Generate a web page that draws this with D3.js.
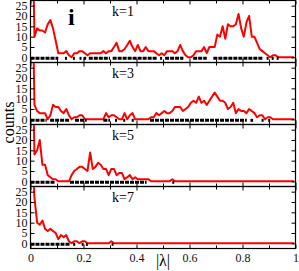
<!DOCTYPE html>
<html>
<head>
<meta charset="utf-8">
<script src="https://cdn.jsdelivr.net/npm/d3@7"></script>
<style>
  body { margin: 0; background: #fff; }
  svg text { font-family: "Liberation Serif", "DejaVu Serif", serif; }
</style>
</head>
<body>
<div id="chart"></div>
<script>
// histogram of |lambda|, one count per bin of width 0.01 (bin centres at 0.005, 0.015, ...)
const binWidth = 0.01

const countsK1 = [
  80, 10, 14, 13, 13, 12, 16, 18, 14, 8,
  2, 2, 2, 3, 1, 0, 2, 2, 3, 3,
  2, 1, 2, 2, 2, 2, 2, 3, 2, 3,
  3, 5, 7, 3, 3, 4, 6, 8, 5, 3,
  6, 3, 3, 5, 3, 3, 3, 2, 1, 2,
  1, 3, 3, 3, 2, 3, 6, 3, 1, 0,
  0, 1, 3, 3, 3, 5, 2, 5, 5, 5,
  11, 10, 15, 9, 16, 15, 15, 16, 21, 14,
  10, 17, 20, 10, 10, 7, 4, 3, 2, 1,
  0, 1, 1, 0, 0, 0, 0, 0, 0, 0,
]
const countsK3 = [
  80, 7, 4, 3, 3, 3, 0, 2, 7, 6,
  6, 4, 3, 5, 2, 0, 1, 1, 2, 2,
  0, 0, 0, 0, 0, 0, 0, 0, 3, 1,
  2, 2, 1, 0, 0, 3, 0, 2, 3, 0,
  0, 0, 0, 0, 0, 1, 1, 3, 2, 3,
  4, 3, 3, 4, 6, 6, 6, 4, 5, 6,
  8, 9, 8, 11, 8, 9, 7, 9, 11, 13,
  11, 9, 9, 8, 5, 6, 8, 3, 5, 4,
  4, 3, 5, 4, 3, 1, 2, 2, 0, 1,
  1, 0, 0, 0, 0, 0, 0, 0, 0, 0,
]
const countsK5 = [
  80, 13, 15, 20, 8, 8, 3, 2, 1, 1,
  0, 0, 0, 0, 0, 3, 5, 6, 7, 7,
  6, 5, 14, 6, 7, 9, 8, 6, 6, 3,
  6, 6, 3, 4, 4, 1, 2, 3, 1, 2,
  1, 1, 1, 1, 1, 0, 0, 0, 0, 0,
  0, 0, 0, 1, 0, 0, 0, 0, 0, 0,
  0, 0, 0, 0, 0, 0, 0, 0, 0, 0,
  0, 0, 0, 0, 0, 0, 0, 0, 0, 0,
  0, 0, 0, 0, 0, 0, 0, 0, 0, 0,
  0, 0, 0, 0, 0, 0, 0, 0, 0, 0,
]
const countsK7 = [
  50, 22, 10, 9, 11, 7, 6, 7, 6, 5,
  2, 4, 3, 4, 1, 0, 1, 1, 0, 1,
  1, 0, 0, 0, 0, 0, 0, 0, 0, 0,
  1, 0, 0, 0, 0, 0, 0, 0, 0, 0,
  0, 0, 0, 0, 0, 0, 0, 0, 0, 0,
  0, 0, 0, 0, 0, 0, 0, 0, 0, 0,
  0, 0, 0, 0, 0, 0, 0, 0, 0, 0,
  0, 0, 0, 0, 0, 0, 0, 0, 0, 0,
  0, 0, 0, 0, 0, 0, 0, 0, 0, 0,
  0, 0, 0, 0, 0, 0, 0, 0, 0, 0,
]

// where the individual eigenvalues sit (runs of |lambda| marked on the zero line)
const rugK1 = [[0, 0.105], [0.13, 0.135], [0.16, 0.165], [0.185, 0.19], [0.2, 0.21], [0.22, 0.3],
  [0.31, 0.476], [0.489, 0.492], [0.508, 0.577], [0.614, 0.665], [0.69, 0.879], [0.891, 0.894],
  [0.91, 0.913], [0.929, 0.932]]
const rugK3 = [[0, 0.061], [0.074, 0.149], [0.168, 0.212], [0.275, 0.3], [0.319, 0.322],
  [0.35, 0.353], [0.382, 0.385], [0.451, 0.816], [0.83, 0.84], [0.872, 0.875], [0.897, 0.9]]
const rugK5 = [[0, 0.092], [0.149, 0.438], [0.535, 0.538]]
const rugK7 = [[0, 0.149], [0.161, 0.164], [0.193, 0.196], [0.209, 0.212], [0.306, 0.309]]

const panelLabels = ['k=1', 'k=3', 'k=5', 'k=7']
const xTicks = [0, 0.2, 0.4, 0.6, 0.8, 1]
const xMinorTicks = [0.1, 0.3, 0.5, 0.7, 0.9]
const yTicks = [0, 5, 10, 15, 20, 25]

const panels = [
  {label: panelLabels[0], counts: countsK1, rug: rugK1},
  {label: panelLabels[1], counts: countsK3, rug: rugK3},
  {label: panelLabels[2], counts: countsK5, rug: rugK5},
  {label: panelLabels[3], counts: countsK7, rug: rugK7},
]

const chart = {left: 30.5, right: 295.5, top: 0.5, panelHeight: 62}

const svg = d3.select('#chart').append('svg')
  .attr('width', 299)
  .attr('height', 271)

const x = d3.scaleLinear().domain([0, 1]).range([chart.left, chart.right])

const styleAxis = (g) => {
  g.select('.domain').remove()
  g.selectAll('text')
    .attr('font-family', '"Liberation Serif", "DejaVu Serif", serif')
    .attr('font-size', 12)
    .attr('fill', '#111')
  g.selectAll('line').attr('stroke', '#000')
}

panels.forEach((p, i) => {
  const top = chart.top + i * chart.panelHeight
  const bottom = top + chart.panelHeight
  const y = d3.scaleLinear().domain([-2.5, 27.5]).range([bottom, top])
  const g = svg.append('g')

  g.append('clipPath').attr('id', 'clip' + i)
    .append('rect')
    .attr('x', chart.left).attr('y', top)
    .attr('width', chart.right - chart.left).attr('height', chart.panelHeight)

  const pts = p.counts.map((c, j) => ({x: (j + 0.5) * binWidth, v: c}))
  const line = d3.line().x((d) => x(d.x)).y((d) => y(d.v))

  g.append('path')
    .datum(pts)
    .attr('d', line)
    .attr('fill', 'none')
    .attr('stroke', '#ff0000')
    .attr('stroke-width', 2)
    .attr('stroke-linejoin', 'round')
    .attr('clip-path', 'url(#clip' + i + ')')

  // eigenvalue marks along zero
  g.selectAll('line.rug')
    .data(p.rug)
    .enter()
      .append('line')
      .attr('class', 'rug')
      .attr('x1', (d) => x(d[0]))
      .attr('x2', (d) => Math.max(x(d[1]), x(d[0]) + 2))
      .attr('y1', y(0) + 1)
      .attr('y2', y(0) + 1)
      .attr('stroke', '#000')
      .attr('stroke-width', 3)
      .attr('stroke-dasharray', '4,1')

  // axes, ticks pointing inward
  g.append('g')
    .attr('transform', `translate(${chart.left},0)`)
    .call(d3.axisLeft(y).tickValues(yTicks).tickSizeInner(-4).tickSizeOuter(0).tickPadding(3))
    .call(styleAxis)
  g.append('g')
    .attr('transform', `translate(${chart.right},0)`)
    .call(d3.axisRight(y).tickValues(yTicks).tickSizeInner(-4).tickSizeOuter(0).tickFormat(''))
    .call(styleAxis)
  g.append('g')
    .attr('transform', `translate(0,${top})`)
    .call(d3.axisTop(x).tickValues(xTicks).tickSizeInner(-4).tickSizeOuter(0).tickFormat(''))
    .call(styleAxis)
  g.append('g')
    .attr('transform', `translate(0,${top})`)
    .call(d3.axisTop(x).tickValues(xMinorTicks).tickSizeInner(-3).tickSizeOuter(0).tickFormat(''))
    .call(styleAxis)
  g.append('g')
    .attr('transform', `translate(0,${bottom})`)
    .call(d3.axisBottom(x).tickValues(xTicks).tickSizeInner(-4).tickSizeOuter(0).tickPadding(5)
      .tickFormat(i === panels.length - 1 ? d3.format('~g') : ''))
    .call(styleAxis)
  g.append('g')
    .attr('transform', `translate(0,${bottom})`)
    .call(d3.axisBottom(x).tickValues(xMinorTicks).tickSizeInner(-3).tickSizeOuter(0).tickFormat(''))
    .call(styleAxis)

  g.append('rect')
    .attr('x', chart.left).attr('y', top)
    .attr('width', chart.right - chart.left).attr('height', chart.panelHeight)
    .attr('fill', 'none')
    .attr('stroke', '#000')
    .attr('stroke-width', 1.2)

  g.append('text')
    .attr('x', 112)
    .attr('y', top + 15)
    .attr('font-size', 14)
    .text(p.label)
})

svg.append('text')
  .attr('x', 68)
  .attr('y', 25)
  .attr('font-size', 24)
  .attr('font-weight', 'bold')
  .text('i')

svg.append('text')
  .attr('transform', `translate(14,${chart.top + 2 * chart.panelHeight - 2}) rotate(-90)`)
  .attr('text-anchor', 'middle')
  .attr('font-size', 16)
  .text('counts')

svg.append('text')
  .attr('x', x(0.5))
  .attr('y', 266)
  .attr('text-anchor', 'middle')
  .attr('font-size', 16)
  .text('|λ|')
</script>
</body>
</html>
